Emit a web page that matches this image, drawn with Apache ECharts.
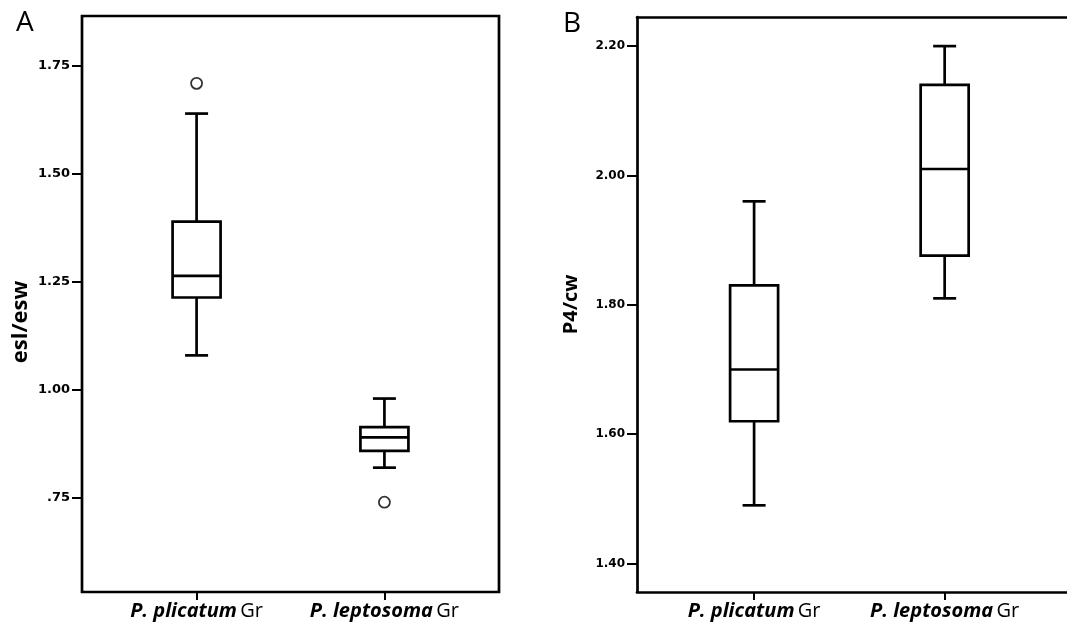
<!DOCTYPE html>
<html>
<head>
<meta charset="utf-8">
<script src="https://cdn.jsdelivr.net/npm/echarts@6/dist/echarts.min.js"></script>
<style>
html,body{margin:0;padding:0;background:#fff;}
#chart{width:1067px;height:629px;}
</style>
</head>
<body>
<div id="chart"></div>
<script>
// ---- data ----
const categories = ['P. plicatum', 'P. leptosoma'];
const categorySuffix = 'Gr';
// [min, Q1, median, Q3, max]
const eslEswStats = [
  [1.08, 1.214, 1.264, 1.39, 1.64],
  [0.82, 0.859, 0.89, 0.914, 0.98]
];
const eslEswOutliers = [[0, 1.71], [1, 0.74]];
const p4CwStats = [
  [1.49, 1.62, 1.70, 1.83, 1.96],
  [1.81, 1.876, 2.01, 2.14, 2.20]
];
const p4CwOutliers = [];
const yTicksA = [0.75, 1.00, 1.25, 1.50, 1.75];
const yTickLabelsA = ['.75', '1.00', '1.25', '1.50', '1.75'];
const yTicksB = [1.40, 1.60, 1.80, 2.00, 2.20];
const yTickLabelsB = ['1.40', '1.60', '1.80', '2.00', '2.20'];
const yNameA = 'esl/esw';
const yNameB = 'P4/cw';
const panelLetters = ['A', 'B'];

// ---- helpers ----
const BOX_W = 48, CAP_W = 23, LW = 2.7;
function toRows(stats) { return stats.map((s, i) => [i].concat(s)); }
function renderBox(params, api) {
  const x = api.value(0);
  const lo = api.coord([x, api.value(1)]);
  const q1 = api.coord([x, api.value(2)]);
  const med = api.coord([x, api.value(3)]);
  const q3 = api.coord([x, api.value(4)]);
  const hi = api.coord([x, api.value(5)]);
  const cx = lo[0], hw = BOX_W / 2, cw = CAP_W / 2;
  const st = { stroke: '#000', lineWidth: LW, fill: null };
  return {
    type: 'group',
    children: [
      { type: 'line', shape: { x1: cx, y1: hi[1], x2: cx, y2: q3[1] }, style: st },
      { type: 'line', shape: { x1: cx, y1: q1[1], x2: cx, y2: lo[1] }, style: st },
      { type: 'line', shape: { x1: cx - cw, y1: hi[1], x2: cx + cw, y2: hi[1] }, style: st },
      { type: 'line', shape: { x1: cx - cw, y1: lo[1], x2: cx + cw, y2: lo[1] }, style: st },
      { type: 'rect', shape: { x: cx - hw, y: q3[1], width: 2 * hw, height: q1[1] - q3[1] }, style: { stroke: '#000', lineWidth: LW, fill: '#fff' } },
      { type: 'line', shape: { x1: cx - hw, y1: med[1], x2: cx + hw, y2: med[1] }, style: st }
    ]
  };
}
function xAxisFor(gi, min, max, showLine) {
  return {
    gridIndex: gi, type: 'value', min: min, max: max,
    axisLine: { show: showLine, onZero: false, lineStyle: { color: '#000', width: LW } },
    splitLine: { show: false },
    axisTick: { show: true, customValues: [0, 1], length: 8, lineStyle: { color: '#000', width: 2 } },
    axisLabel: {
      show: true, customValues: [0, 1], margin: 9,
      formatter: v => '{i|' + categories[Math.round(v)] + '} {r|' + categorySuffix + '}',
      rich: {
        i: { fontFamily: 'Open Sans', fontWeight: 'bold', fontStyle: 'italic', fontSize: 20, color: '#000' },
        r: { fontFamily: 'Open Sans', fontSize: 20, color: '#000' }
      }
    }
  };
}
function topLineAxis(gi, min, max) {
  return {
    gridIndex: gi, type: 'value', position: 'top', min: min, max: max,
    axisLine: { show: true, onZero: false, lineStyle: { color: '#000', width: LW } },
    splitLine: { show: false }, axisTick: { show: false }, axisLabel: { show: false }
  };
}
function yAxisFor(gi, min, max, ticks, labels, name, nameSize, nameGap, labelSize, namePad, showLine) {
  return {
    gridIndex: gi, type: 'value', min: min, max: max,
    name: name, nameLocation: 'middle', nameGap: nameGap, nameRotate: 90,
    nameTextStyle: { fontFamily: 'Open Sans', fontWeight: 'bold', fontSize: nameSize, color: '#000', padding: namePad },
    axisLine: { show: showLine, onZero: false, lineStyle: { color: '#000', width: LW } },
    splitLine: { show: false },
    axisTick: { show: true, customValues: ticks, length: 10, lineStyle: { color: '#000', width: 2 } },
    axisLabel: {
      show: true, customValues: ticks, margin: 12,
      formatter: v => labels[ticks.findIndex(t => Math.abs(t - v) < 1e-6)],
      fontFamily: 'DejaVu Sans', fontWeight: 'bold', fontSize: labelSize, color: '#000'
    }
  };
}

const chart = echarts.init(document.getElementById('chart'), null, { renderer: 'canvas' });
chart.setOption({
  backgroundColor: '#fff',
  animation: false,
  title: [
    { text: panelLetters[0], left: 11, top: 4, textStyle: { fontFamily: 'Open Sans', fontWeight: 'normal', fontSize: 28, color: '#000' } },
    { text: panelLetters[1], left: 558, top: 5, textStyle: { fontFamily: 'Open Sans', fontWeight: 'normal', fontSize: 28, color: '#000' } }
  ],
  grid: [
    { left: 82, top: 16, width: 417, bottom: 37, show: true, borderColor: '#000', borderWidth: LW, backgroundColor: 'transparent' },
    { left: 637, top: 17, right: 0, bottom: 37, show: false }
  ],
  xAxis: [
    xAxisFor(0, -0.61, 1.61, false),
    xAxisFor(1, -0.6145, 1.642, true),
    topLineAxis(1, -0.6145, 1.642)
  ],
  yAxis: [
    yAxisFor(0, 0.532, 1.866, yTicksA, yTickLabelsA, yNameA, 22, 50, 13, [0, 36, 0, 0], false),
    yAxisFor(1, 1.356, 2.245, yTicksB, yTickLabelsB, yNameB, 20, 56, 12, [0, 0, 0, 0], true)
  ],
  series: [
    { type: 'custom', xAxisIndex: 0, yAxisIndex: 0, renderItem: renderBox, data: toRows(eslEswStats), encode: { x: 0, y: [1, 2, 3, 4, 5] }, z: 3 },
    { type: 'scatter', xAxisIndex: 0, yAxisIndex: 0, data: eslEswOutliers, symbol: 'circle', symbolSize: 11, itemStyle: { color: '#fff', borderColor: '#000', borderWidth: 1.8 }, z: 4 },
    { type: 'custom', xAxisIndex: 1, yAxisIndex: 1, renderItem: renderBox, data: toRows(p4CwStats), encode: { x: 0, y: [1, 2, 3, 4, 5] }, z: 3 },
    { type: 'scatter', xAxisIndex: 1, yAxisIndex: 1, data: p4CwOutliers, symbol: 'circle', symbolSize: 11, itemStyle: { color: '#fff', borderColor: '#000', borderWidth: 1.8 }, z: 4 }
  ]
});
</script>
</body>
</html>
